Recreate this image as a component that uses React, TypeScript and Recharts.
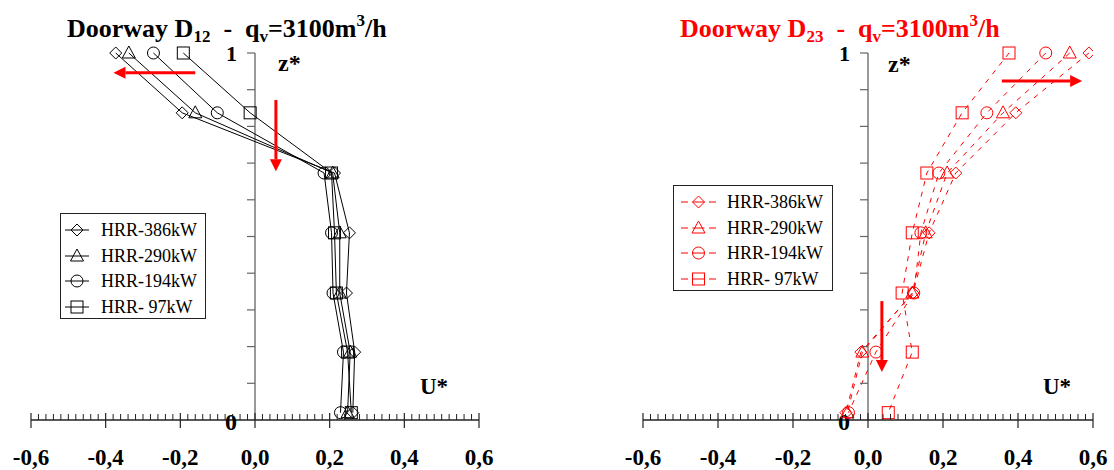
import React from 'react';
import { LineChart, Line, XAxis, YAxis, ReferenceLine, ReferenceDot } from 'recharts';

// heights z* shared by all profiles
const zLevels = [1.0, 0.837, 0.673, 0.51, 0.346, 0.185, 0.02];

// Doorway D12 (U* per level, top to bottom)
const d12_386 = [-0.373, -0.195, 0.213, 0.253, 0.245, 0.267, 0.262];
const d12_290 = [-0.338, -0.16, 0.208, 0.227, 0.227, 0.255, 0.248];
const d12_194 = [-0.272, -0.101, 0.185, 0.205, 0.209, 0.237, 0.229];
const d12_97 = [-0.192, -0.013, 0.205, 0.213, 0.218, 0.248, 0.258];

// Doorway D23
const d23_386 = [0.589, 0.394, 0.234, 0.163, 0.12, -0.019, -0.059];
const d23_290 = [0.538, 0.36, 0.211, 0.154, 0.118, -0.015, -0.055];
const d23_194 = [0.474, 0.317, 0.189, 0.141, 0.122, 0.021, -0.052];
const d23_97 = [0.376, 0.251, 0.157, 0.118, 0.091, 0.118, 0.054];

const seriesNames = ['HRR-386kW', 'HRR-290kW', 'HRR-194kW', 'HRR- 97kW'];
const seriesShapes = ['diamond', 'triangle', 'circle', 'square'];

const majorTicks = [-0.6, -0.4, -0.2, 0.0, 0.2, 0.4, 0.6];
const majorLabels = ['-0,6', '-0,4', '-0,2', '0,0', '0,2', '0,4', '0,6'];
const xTicks: number[] = [];
for (let i = -30; i <= 30; i++) xTicks.push(Math.round(i * 2) / 100);
const yTicks = [0, 0.1, 0.2, 0.3, 0.4, 0.5, 0.6, 0.7, 0.8, 0.9, 1.0];
const yLabels = [0, 1];

const FONT = "'Liberation Serif', 'Times New Roman', serif";
const RED = '#ff0000';

const toRows = (u: number[]) => u.map((v, i) => ({ u: v, z: zLevels[i] }));

function Marker({ shape, cx, cy, color, sw = 1 }: any) {
  if (cx == null || cy == null) return null;
  const s = 6;
  if (shape === 'diamond')
    return <polygon points={`${cx},${cy - s} ${cx + s},${cy} ${cx},${cy + s} ${cx - s},${cy}`} fill="none" stroke={color} strokeWidth={sw} />;
  if (shape === 'triangle')
    return <polygon points={`${cx},${cy - 7} ${cx + 6.5},${cy + 5} ${cx - 6.5},${cy + 5}`} fill="none" stroke={color} strokeWidth={sw} />;
  if (shape === 'circle') return <circle cx={cx} cy={cy} r={6} fill="none" stroke={color} strokeWidth={sw} />;
  return <rect x={cx - 6} y={cy - 6} width={12} height={12} fill="none" stroke={color} strokeWidth={sw} />;
}

const arrowShape = (color: string) => (p: any) => {
  const { x1, y1, x2, y2 } = p;
  if (x1 == null) return null;
  const dx = x2 - x1, dy = y2 - y1;
  const len = Math.sqrt(dx * dx + dy * dy) || 1;
  const ux = dx / len, uy = dy / len;
  const hl = 12, hw = 6;
  const bx = x2 - ux * hl, by = y2 - uy * hl;
  return (
    <g>
      <line x1={x1} y1={y1} x2={bx} y2={by} stroke={color} strokeWidth={3} />
      <polygon points={`${x2},${y2} ${bx - uy * hw},${by + ux * hw} ${bx + uy * hw},${by - ux * hw}`} fill={color} />
    </g>
  );
};

function makeXTick(props: any) {
  const { x, y, payload } = props;
  const v = payload.value;
  const major = majorTicks.some((m) => Math.abs(m - v) < 1e-6);
  if (!major) return <line x1={x} x2={x} y1={y - 6} y2={y} stroke="#222" strokeWidth={1} />;
  return <line x1={x} x2={x} y1={y - 7} y2={y + 8} stroke="#222" strokeWidth={1.2} />;
}

const xLabelShape = (label: string) => (p: any) => {
  const { cx, cy } = p;
  if (cx == null) return null;
  return (
    <text x={cx} y={cy + 45} textAnchor="middle" style={{ fontFamily: FONT, fontWeight: 700, fontSize: 23, fill: '#000' }}>
      {label}
    </text>
  );
};

const yTickShape = (p: any) => {
  const { cx, cy } = p;
  if (cx == null) return null;
  return <line x1={cx - 8} x2={cx} y1={cy} y2={cy} stroke="#666" strokeWidth={1.2} />;
};

const yLabelShape = (v: number) => (p: any) => {
  const { cx, cy } = p;
  if (cx == null) return null;
  return (
    <text x={cx - 18} y={cy + (v === 1 ? 8 : 10)} textAnchor="end" style={{ fontFamily: FONT, fontWeight: 700, fontSize: v === 1 ? 22 : 24, fill: '#000' }}>
      {v}
    </text>
  );
};

function Panel({ left, marginLeft, marginRight, series, color, dashed, arrows }: any) {
  return (
    <div style={{ position: 'absolute', left, top: 0 }}>
      <LineChart width={557} height={470} margin={{ top: 53, left: marginLeft, right: marginRight, bottom: 10 }}>
        <XAxis
          type="number"
          dataKey="u"
          domain={[-0.6, 0.6]}
          ticks={xTicks}
          interval={0}
          allowDataOverflow
          height={40}
          tickSize={0}
          tickMargin={0}
          tickLine={false}
          axisLine={{ stroke: '#222', strokeWidth: 1.3 }}
          tick={makeXTick}
        />
        <YAxis type="number" dataKey="z" domain={[0, 1]} ticks={yTicks} width={0} hide />
        <ReferenceLine x={0} stroke="#777" strokeWidth={1.5} />
        {yTicks.filter((v) => v > 0).map((v) => (
          <ReferenceDot key={`t${v}`} x={0} y={v} r={0} ifOverflow="visible" shape={yTickShape} />
        ))}
        {yLabels.map((v) => (
          <ReferenceDot key={`l${v}`} x={0} y={v} r={0} ifOverflow="visible" shape={yLabelShape(v)} />
        ))}
        {majorTicks.map((v, i) => (
          <ReferenceDot key={`x${i}`} x={v} y={0} r={0} ifOverflow="visible" shape={xLabelShape(majorLabels[i])} />
        ))}
        {series.map((s: number[], i: number) => (
          <Line
            key={i}
            data={toRows(s)}
            dataKey="z"
            type="linear"
            stroke={color}
            strokeWidth={1}
            strokeDasharray={dashed ? '5 6' : undefined}
            isAnimationActive={false}
            dot={(p: any) => <Marker key={`m${i}-${p.index}`} shape={seriesShapes[i]} cx={p.cx} cy={p.cy} color={color} />}
            activeDot={false}
          />
        ))}
        {arrows.map((a: any, i: number) => (
          <ReferenceLine key={`a${i}`} segment={a} ifOverflow="visible" shape={arrowShape(RED)} />
        ))}
      </LineChart>
    </div>
  );
}

function LegendBox({ left, top, width, height, color, dashed, rowTop, symLeft, textLeft }: any) {
  return (
    <div
      style={{
        position: 'absolute',
        left,
        top,
        width,
        height,
        border: '1px solid #222',
        boxSizing: 'border-box',
        background: '#fff',
        fontFamily: FONT,
        fontSize: 18,
      }}
    >
      {seriesNames.map((n, i) => (
        <div key={n} style={{ position: 'absolute', left: 0, top: rowTop + i * 25.5 - 12, height: 24, width: '100%' }}>
          <svg width={40} height={24} style={{ position: 'absolute', left: symLeft, top: 0 }}>
            {dashed ? (
              <g>
                <line x1={1} x2={8} y1={12} y2={12} stroke={color} />
                <line x1={29} x2={36} y1={12} y2={12} stroke={color} />
                <line x1={12.5} x2={24.5} y1={12} y2={12} stroke={color} />
              </g>
            ) : (
              <line x1={0} x2={24} y1={12} y2={12} stroke={color} />
            )}
            <Marker shape={seriesShapes[i]} cx={dashed ? 18.5 : 12} cy={12} color={color} />
          </svg>
          <span style={{ position: 'absolute', left: textLeft, top: 1, lineHeight: '22px', color: '#000', whiteSpace: 'pre' }}>{n}</span>
        </div>
      ))}
    </div>
  );
}

function Title({ x, color, sub }: any) {
  return (
    <text x={x} y={37} fontFamily={FONT} fontWeight="bold" fontSize={26} fill={color} style={{ whiteSpace: 'pre' }}>
      Doorway D<tspan fontSize={17} dy={5}>{sub}</tspan>
      <tspan dy={-5}>{'  -  q'}</tspan>
      <tspan fontSize={17} dy={5}>v</tspan>
      <tspan dy={-5}>=3100m</tspan>
      <tspan fontSize={17} dy={-11}>3</tspan>
      <tspan dy={11}>/h</tspan>
    </text>
  );
}

export default function App() {
  return (
    <div style={{ position: 'absolute', left: 0, top: 0, width: 1114, height: 470, background: '#fff', overflow: 'hidden' }}>
      <Panel
        left={0}
        marginLeft={31}
        marginRight={78}
        series={[d12_386, d12_290, d12_194, d12_97]}
        color="#000"
        dashed={false}
        arrows={[
          [{ x: -0.16, y: 0.946 }, { x: -0.379, y: 0.946 }],
          [{ x: 0.056, y: 0.872 }, { x: 0.056, y: 0.678 }],
        ]}
      />
      <Panel
        left={557}
        marginLeft={86}
        marginRight={21}
        series={[d23_386, d23_290, d23_194, d23_97]}
        color={RED}
        dashed={true}
        arrows={[
          [{ x: 0.357, y: 0.924 }, { x: 0.571, y: 0.924 }],
          [{ x: 0.037, y: 0.324 }, { x: 0.037, y: 0.131 }],
        ]}
      />
      <LegendBox left={60} top={213} width={146} height={106} color="#000" dashed={false} rowTop={16} symLeft={4} textLeft={40} />
      <LegendBox left={673} top={185} width={160} height={106} color={RED} dashed={true} rowTop={16} symLeft={6} textLeft={53} />
      <svg width={1114} height={470} style={{ position: 'absolute', left: 0, top: 0, pointerEvents: 'none' }}>
        <Title x={67} color="#000" sub="12" />
        <Title x={680} color={RED} sub="23" />
        <text x={278} y={71} fontFamily={FONT} fontWeight="bold" fontSize={24}>z*</text>
        <text x={888} y={72} fontFamily={FONT} fontWeight="bold" fontSize={24}>z*</text>
        <text x={420} y={394} fontFamily={FONT} fontWeight="bold" fontSize={23}>U*</text>
        <text x={1043} y={394} fontFamily={FONT} fontWeight="bold" fontSize={23}>U*</text>
      </svg>
    </div>
  );
}
